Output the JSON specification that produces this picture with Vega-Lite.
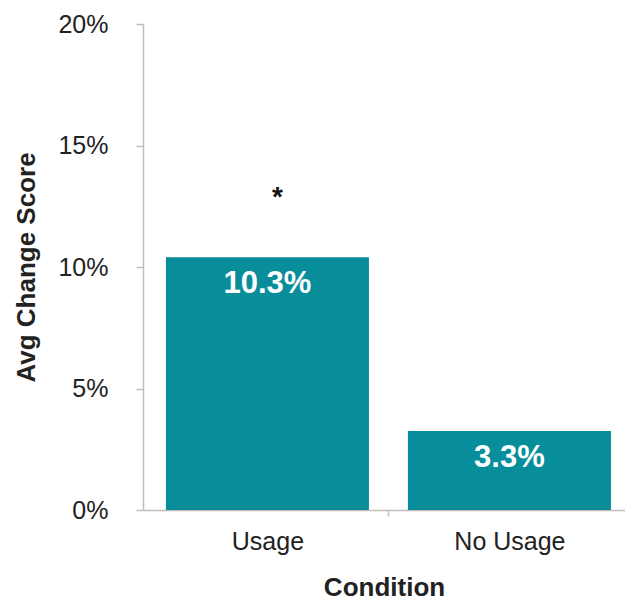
{
  "$schema": "https://vega.github.io/schema/vega-lite/v6.json",
  "width": 482,
  "height": 486,
  "autosize": {"type": "none"},
  "padding": {"left": 143, "top": 24, "right": 0, "bottom": 91},
  "background": "white",
  "config": {"view": {"stroke": null}, "font": "Liberation Sans"},
  "data": {"values": [
    {"condition": "Usage", "score": 0.104, "label": "10.3%", "sig": "*"},
    {"condition": "No Usage", "score": 0.0325, "label": "3.3%", "sig": ""}
  ]},
  "encoding": {
    "x": {
      "field": "condition", "type": "nominal", "sort": ["Usage", "No Usage"],
      "scale": {"paddingInner": 0.161, "paddingOuter": 0.0764, "align": 0.62},
      "axis": {
        "title": "Condition", "titleFont": "Liberation Sans", "titleFontSize": 26, "titleFontWeight": "bold",
        "titleColor": "#222222", "titleBaseline": "alphabetic", "titleY": 85,
        "labelAngle": 0, "labelFont": "Liberation Sans", "labelFontSize": 25, "labelColor": "#222222",
        "labelPadding": 13, "tickOffset": 121, "labelOffset": -121,
        "tickSize": 6, "tickColor": "#c4bcb8", "tickWidth": 1.5,
        "domainColor": "#c4bcb8", "domainWidth": 1.5, "grid": false
      }
    },
    "y": {
      "field": "score", "type": "quantitative",
      "scale": {"domain": [0, 0.2]},
      "axis": {
        "title": "Avg Change Score", "titleFont": "Liberation Sans", "titleFontSize": 26, "titleFontWeight": "bold",
        "titleColor": "#222222", "titleBaseline": "alphabetic", "titleX": -109,
        "values": [0, 0.05, 0.1, 0.15, 0.2], "format": ".0%",
        "labelFont": "Liberation Sans", "labelFontSize": 25, "labelColor": "#222222", "labelPadding": 28,
        "tickSize": 7, "tickColor": "#c4bcb8", "tickWidth": 1.5,
        "domainColor": "#c4bcb8", "domainWidth": 1.5, "grid": false
      }
    }
  },
  "layer": [
    {"mark": {"type": "bar", "color": "#088d9b"}},
    {"mark": {"type": "text", "color": "white", "fontWeight": "bold", "fontSize": 31, "baseline": "middle", "dy": 27, "font": "Liberation Sans"},
     "encoding": {"text": {"field": "label"}}},
    {"mark": {"type": "text", "color": "#111111", "fontWeight": "bold", "fontSize": 28, "baseline": "middle", "dy": -59, "dx": 10, "font": "Liberation Sans"},
     "encoding": {"text": {"field": "sig"}}}
  ]
}
